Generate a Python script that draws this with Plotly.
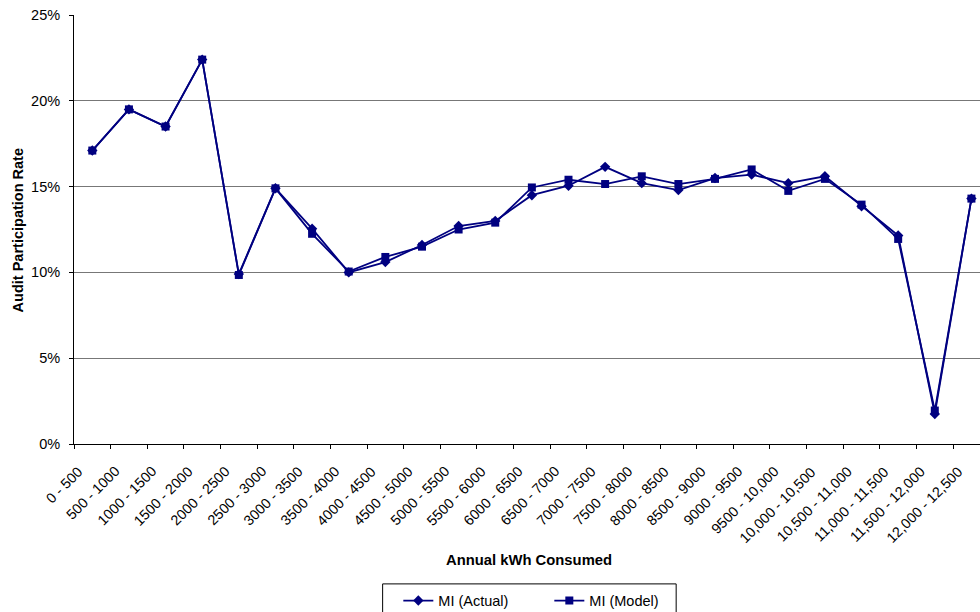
import plotly.graph_objects as go

# Annual consumption bands (kWh)
bands = [
    "0 - 500", "500 - 1000", "1000 - 1500", "1500 - 2000", "2000 - 2500",
    "2500 - 3000", "3000 - 3500", "3500 - 4000", "4000 - 4500", "4500 - 5000",
    "5000 - 5500", "5500 - 6000", "6000 - 6500", "6500 - 7000", "7000 - 7500",
    "7500 - 8000", "8000 - 8500", "8500 - 9000", "9000 - 9500", "9500 - 10,000",
    "10,000 - 10,500", "10,500 - 11,000", "11,000 - 11,500", "11,500 - 12,000",
    "12,000 - 12,500",
]

# Audit participation rate (%) per band
mi_actual = [
    17.1, 19.5, 18.5, 22.4, 9.9,
    14.9, 12.55, 10.0, 10.6, 11.6,
    12.7, 13.0, 14.5, 15.05, 16.15,
    15.2, 14.8, 15.5, 15.7, 15.2,
    15.6, 13.85, 12.15, 1.75, 14.3,
]
mi_model = [
    17.1, 19.5, 18.5, 22.4, 9.85,
    14.9, 12.25, 10.05, 10.9, 11.5,
    12.5, 12.9, 14.95, 15.4, 15.15,
    15.6, 15.15, 15.45, 16.0, 14.75,
    15.45, 13.95, 11.95, 1.95, 14.3,
]

y_ticks = [0, 5, 10, 15, 20, 25]
y_tick_text = [f"{v}%" for v in y_ticks]

NAVY = "#000080"
FONT = "Liberation Sans, Arial, sans-serif"

W, H = 980, 612
ML, MR, MT, MB = 73.5, 0, 15, 167.7
plot_w = W - ML - MR
plot_h = H - MT - MB
band_px = 36.65  # width of one category band


def px_x(x):
    return (x - ML) / plot_w


def px_y(y):
    return (H - MB - y) / plot_h


fig = go.Figure()
fig.add_trace(go.Scatter(
    x=bands, y=mi_actual, name="MI (Actual)", mode="lines+markers",
    line=dict(color=NAVY, width=1.8),
    marker=dict(symbol="diamond", size=8, color=NAVY),
))
fig.add_trace(go.Scatter(
    x=bands, y=mi_model, name="MI (Model)", mode="lines+markers",
    line=dict(color=NAVY, width=1.8),
    marker=dict(symbol="square", size=8, color=NAVY),
))

# Slanted category labels, each anchored by its top-right corner under its band
band_labels = [
    dict(text=b, x=b, xref="x", y=px_y(462.5), yref="paper",
         xanchor="right", yanchor="top", xshift=-5, textangle=-45,
         showarrow=False, borderpad=0,
         font=dict(family=FONT, size=14.3, color="black"))
    for b in bands
]

fig.update_layout(
    width=W, height=H,
    margin=dict(l=ML, r=MR, t=MT, b=MB, pad=0, autoexpand=False),
    paper_bgcolor="white", plot_bgcolor="white",
    font=dict(family=FONT, size=14, color="black"),
    showlegend=True,
    legend=dict(
        orientation="h", x=px_x(398), y=px_y(585),
        xanchor="left", yanchor="top", entrywidth=106,
        borderwidth=0, bgcolor="rgba(0,0,0,0)",
        font=dict(family=FONT, size=14.5, color="black"),
    ),
    xaxis=dict(
        type="category", categoryorder="array", categoryarray=bands,
        range=[-0.5, -0.5 + plot_w / band_px],
        showline=True, linecolor="black", linewidth=1,
        ticks="outside", ticklen=4, tickcolor="black", tickson="boundaries",
        showticklabels=False,
        showgrid=False, zeroline=False, automargin=False,
    ),
    yaxis=dict(
        range=[0, 25], tickmode="array", tickvals=y_ticks, ticktext=y_tick_text,
        showline=True, linecolor="black", linewidth=1,
        ticks="outside", ticklen=4, tickcolor="black", ticklabelstandoff=6,
        tickfont=dict(family=FONT, size=14.5, color="black"),
        showgrid=True, gridcolor="#777777", gridwidth=1, zeroline=False,
        automargin=False,
    ),
    shapes=[
        # legend frame
        dict(type="rect", xref="paper", yref="paper",
             x0=px_x(382.3), x1=px_x(676), y0=px_y(584.3), y1=px_y(625),
             line=dict(color="black", width=1), fillcolor="rgba(0,0,0,0)",
             layer="below"),
    ],
    annotations=band_labels + [
        dict(text="<b>Annual kWh Consumed</b>", xref="paper", yref="paper",
             x=px_x(529), y=px_y(560), xanchor="center", yanchor="middle",
             showarrow=False, font=dict(family=FONT, size=14.8, color="black")),
        dict(text="<b>Audit Participation Rate</b>", xref="paper", yref="paper",
             x=px_x(17), y=px_y(231), xanchor="center", yanchor="middle",
             textangle=-90, showarrow=False,
             font=dict(family=FONT, size=14.5, color="black")),
    ],
)

fig.write_html("out.html")
